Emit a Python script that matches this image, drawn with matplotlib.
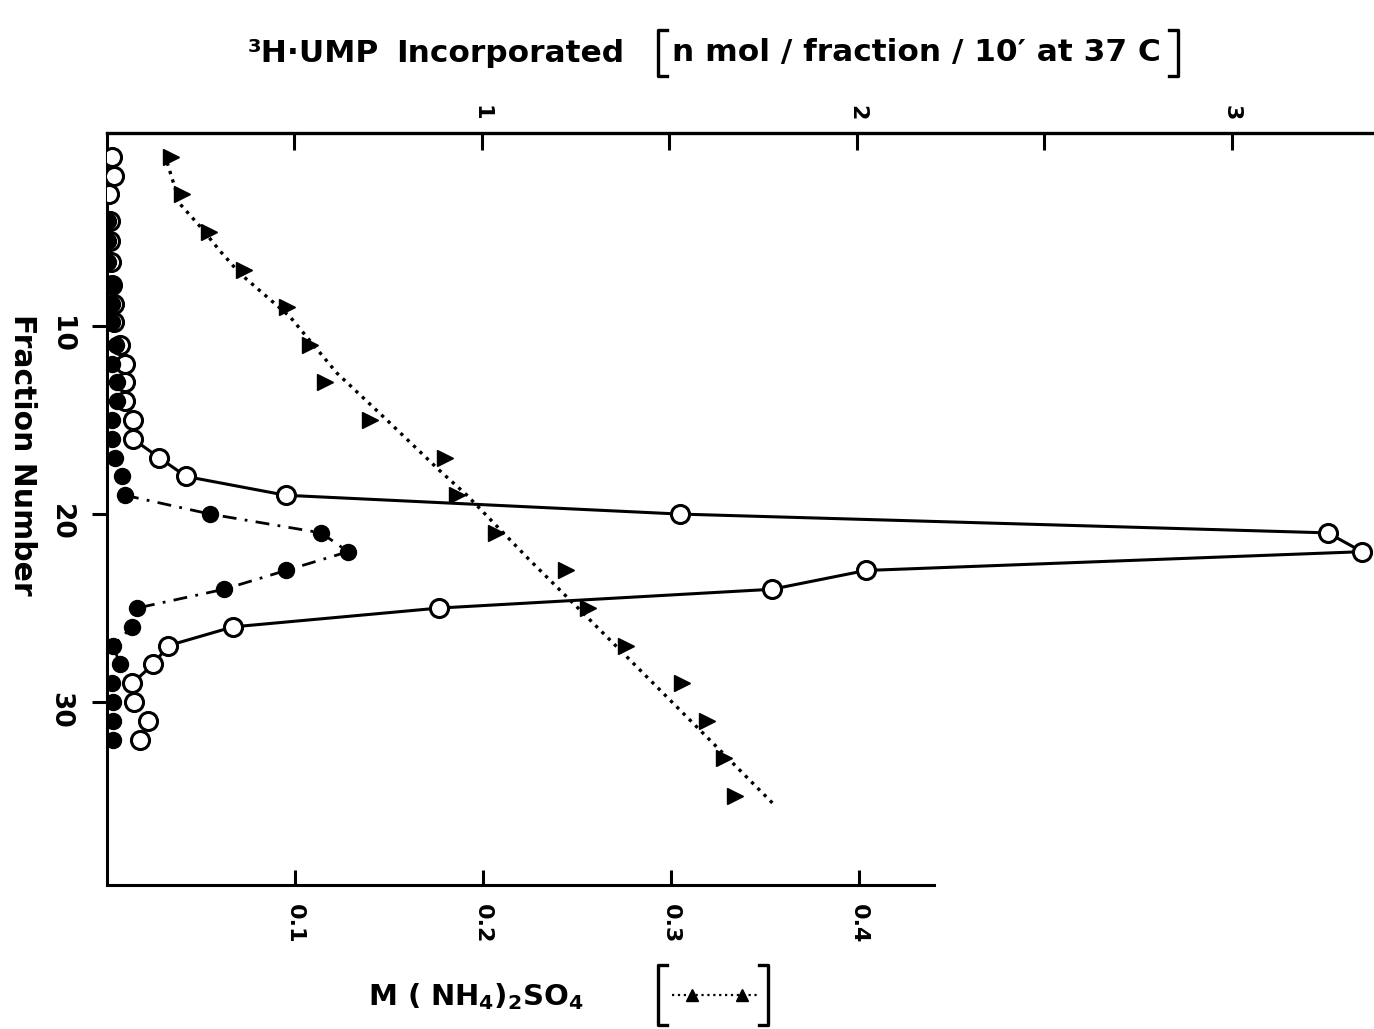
import matplotlib
matplotlib.use("Agg")
import matplotlib.pyplot as plt
from matplotlib.lines import Line2D

plt.rcParams['font.family'] = ['DejaVu Sans']
plt.rcParams['font.weight'] = 'bold'
plt.rcParams['mathtext.default'] = 'bf'

# 3H-UMP incorporated (nmol / fraction / 10' at 37 C), open circles
frac_open = [1, 2, 3, 4.4, 5.5, 6.6, 7.8, 8.8, 9.8, 11, 12, 13, 14, 15, 16, 17,
             18, 19, 20, 21, 22, 23, 24, 25, 26, 27, 28, 29, 30, 31, 32]
ump_open = [0.013, 0.019, 0.005, 0.008, 0.008, 0.011, 0.013, 0.019, 0.019,
            0.035, 0.048, 0.048, 0.048, 0.069, 0.069, 0.139, 0.211, 0.477,
            1.528, 3.256, 3.347, 2.024, 1.773, 0.885, 0.336, 0.163, 0.123,
            0.067, 0.072, 0.110, 0.088]

# 3H-UMP incorporated, filled circles
frac_fill = [4.4, 5.5, 6.6, 7.8, 8.8, 9.8, 11, 12, 13, 14, 15, 16, 17, 18, 19,
             20, 21, 22, 23, 24, 25, 26, 27, 28, 29, 30, 31, 32]
ump_fill = [0.003, 0.003, 0.003, 0.013, 0.013, 0.013, 0.024, 0.013, 0.027,
            0.027, 0.013, 0.013, 0.021, 0.040, 0.048, 0.275, 0.571, 0.643,
            0.477, 0.312, 0.080, 0.067, 0.016, 0.035, 0.013, 0.016, 0.016,
            0.016]

# Ammonium sulfate concentration (M), measured fractions
frac_salt = [1, 3, 5, 7, 9, 11, 13, 15, 17, 19, 21, 23, 25, 27, 29, 31, 33, 35]
m_salt = [0.034, 0.040, 0.054, 0.073, 0.096, 0.108, 0.116, 0.140, 0.180,
          0.186, 0.207, 0.244, 0.256, 0.276, 0.306, 0.319, 0.328, 0.334]

# Smoothed salt gradient curve
grad_frac = [1.3, 3.5, 4.7, 6.0, 7.2, 9.5, 12.5, 15.0, 17.7, 19.0, 22.3,
             25.1, 29.2, 32.4, 35.4]
grad_m = [0.032, 0.0388, 0.0495, 0.0601, 0.0707, 0.0973, 0.1223, 0.1489,
          0.1771, 0.1915, 0.2234, 0.2516, 0.2926, 0.3245, 0.3543]

salt_ticks = [0.1, 0.2, 0.3, 0.4]
salt_ticklabels = ['0.1', '0.2', '0.3', '0.4']
ump_ticks = [1, 2, 3]
ump_ticklabels = ['1', '2', '3']
frac_ticks = [10, 20, 30]
frac_ticklabels = ['10', '20', '30']

W_PX, H_PX = 1374, 1029
fig = plt.figure(figsize=(W_PX / 100, H_PX / 100), dpi=100)


def fx(x):
    return x / W_PX


def fy(y):
    return 1 - y / H_PX


ax = fig.add_axes([fx(107), fy(885), (W_PX - 107) / W_PX, (885 - 133) / H_PX])
ax.set_ylim(39.73, -0.27)
ax.set_xlim(0, 0.674)

ax_t = ax.twiny()
ax_t.set_xlim(0, 3.379)

# spines
for s in ['top', 'right']:
    ax.spines[s].set_visible(False)
for s in ['left', 'right', 'bottom']:
    ax_t.spines[s].set_visible(False)
ax.spines['left'].set_linewidth(2.2)
ax.spines['bottom'].set_linewidth(2.2)
ax.spines['bottom'].set_bounds(0, 0.44)
ax_t.spines['top'].set_linewidth(2.4)

# ticks
ax.set_yticks(frac_ticks)
ax.set_yticklabels(frac_ticklabels)
ax.tick_params(axis='y', direction='out', length=11, width=2.2, pad=13,
               labelsize=19, labelrotation=-90)
ax.set_xticks(salt_ticks)
ax.set_xticklabels(salt_ticklabels)
ax.tick_params(axis='x', direction='in', length=11, width=2.2, pad=14,
               labelsize=16, labelrotation=-90)
ax_t.set_xticks(ump_ticks)
ax_t.set_xticklabels(ump_ticklabels)
ax_t.set_xticks([0.5, 1.5, 2.5], minor=True)
ax_t.tick_params(axis='x', which='both', direction='in', length=12, width=2.2,
                 pad=9, labelsize=16, labelrotation=-90)
for lab in ax.get_xticklabels() + ax.get_yticklabels() + ax_t.get_xticklabels():
    lab.set_fontweight('bold')

# salt gradient (bottom scale)
ax.plot(grad_m, grad_frac, color='black', linestyle=':', linewidth=2.4, zorder=2)
ax.plot(m_salt, frac_salt, linestyle='none', marker='>', markersize=12,
        color='black', zorder=3)

# UMP incorporation (top scale)
i0 = frac_open.index(16)
i1 = frac_open.index(29)
ax_t.plot(ump_open[i0:i1 + 1], frac_open[i0:i1 + 1], color='black',
          linewidth=2.2, zorder=2)
j0 = frac_fill.index(19)
j1 = frac_fill.index(29)
ax_t.plot(ump_fill[j0:j1 + 1], frac_fill[j0:j1 + 1], color='black',
          linewidth=2.0, linestyle=(0, (5, 3, 1, 3)), zorder=2)
ax_t.plot(ump_open, frac_open, linestyle='none', marker='o', markersize=13,
          markerfacecolor='white', markeredgecolor='black',
          markeredgewidth=2.2, zorder=4)
ax_t.plot(ump_fill, frac_fill, linestyle='none', marker='o', markersize=11.5,
          color='black', zorder=5)
ax_t.set_ylim(39.73, -0.27)

# axis titles
fig.text(fx(22), fy(455), 'Fraction Number', rotation=-90, ha='center',
         va='center', fontsize=21.5, fontweight='bold')

fig.text(fx(248), fy(53), '³H·UMP', ha='left', va='center', fontsize=22.5,
         fontweight='bold')
fig.text(fx(396), fy(53), 'Incorporated', ha='left', va='center',
         fontsize=22.5, fontweight='bold')
fig.text(fx(672), fy(53), 'n mol / fraction / 10′ at 37 C', ha='left',
         va='center', fontsize=22.5, fontweight='bold')


def bracket(x, y0, y1, side, serif=9):
    d = serif if side == 'left' else -serif
    fig.add_artist(Line2D([fx(x + d), fx(x), fx(x), fx(x + d)],
                          [fy(y0), fy(y0), fy(y1), fy(y1)],
                          color='black', linewidth=2.4,
                          transform=fig.transFigure))


bracket(658, 30, 76, 'left')
bracket(1178, 30, 76, 'right')

fig.text(fx(368), fy(997), 'M ( NH$_4$)$_2$SO$_4$', ha='left', va='center',
         fontsize=21, fontweight='bold')
bracket(658, 965, 1025, 'left')
bracket(768, 965, 1025, 'right')
fig.add_artist(Line2D([fx(672), fx(757)], [fy(995), fy(995)], color='black',
                      linestyle=':', linewidth=1.6, transform=fig.transFigure))
fig.add_artist(Line2D([fx(692), fx(742)], [fy(995), fy(995)], color='black',
                      linestyle='none', marker='^', markersize=8,
                      transform=fig.transFigure))

fig.savefig('out.png', dpi=100, facecolor='white')
